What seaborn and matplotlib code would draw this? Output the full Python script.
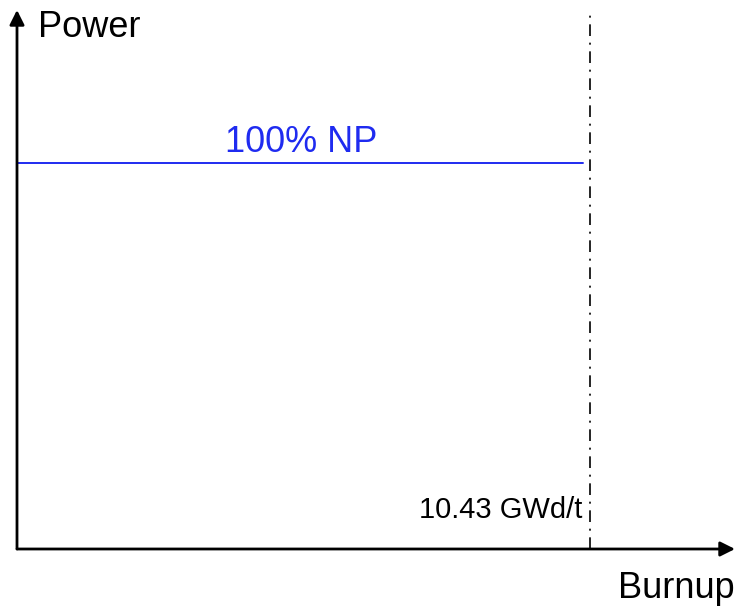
import pandas as pd
import matplotlib.pyplot as plt
import seaborn as sns

# data
burnup = [0.0, 10.30]
power = [100, 100]
eoc_burnup = 10.43
eoc_label = '10.43 GWd/t'
power_label = '100% NP'

sns.set_style('white')
plt.rcParams['font.family'] = ['Liberation Sans', 'DejaVu Sans']
plt.rcParams['text.color'] = 'black'

W, H = 736, 606
fig = plt.figure(figsize=(W / 100, H / 100), dpi=100)
# axes box in pixels: left 17, right 735, bottom 549, top 10
ax = fig.add_axes([17 / W, (H - 549) / H, (735 - 17) / W, (549 - 10) / H])

xmax, ymax = 13.07, 139.5
ax.set_xlim(0, xmax)
ax.set_ylim(0, ymax)

df = pd.DataFrame({'burnup': burnup, 'power': power})
sns.lineplot(data=df, x='burnup', y='power', color='#1f2bf0', lw=1.4, ax=ax)

ax.axvline(eoc_burnup, ymin=0, ymax=0.995, color='black', lw=1.2,
           linestyle=(0, (7, 4, 1.2, 4)))

# arrow axes
arrow = dict(arrowstyle='-|>', lw=2, color='black', mutation_scale=22,
             shrinkA=0, shrinkB=0)
ax.annotate('', xy=(xmax, 0), xytext=(0, 0), arrowprops=arrow,
            annotation_clip=False)
ax.annotate('', xy=(0, ymax), xytext=(0, 0), arrowprops=arrow,
            annotation_clip=False)

ax.text(5.17, 102.7, power_label, color='#1f2bf0', fontsize=26,
        ha='center', va='baseline')
ax.text(10.30, 8.0, eoc_label, color='black', fontsize=21,
        ha='right', va='baseline')

fig.text(38 / W, 1 - 37 / H, 'Power', fontsize=26, color='black',
         ha='left', va='baseline')
fig.text(735 / W, 1 - 598 / H, 'Burnup', fontsize=26, color='black',
         ha='right', va='baseline')

for s in ax.spines.values():
    s.set_visible(False)
ax.set_xticks([])
ax.set_yticks([])
ax.set_xlabel('')
ax.set_ylabel('')

fig.savefig('out.png', dpi=100)
